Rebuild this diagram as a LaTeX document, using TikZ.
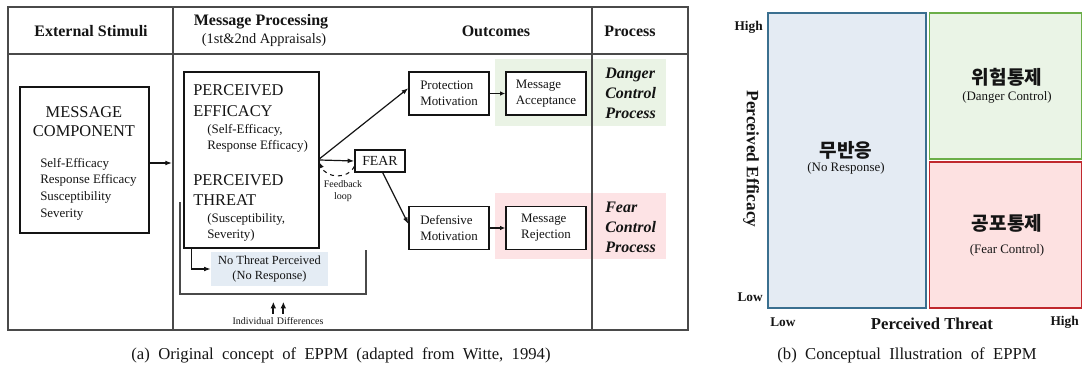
\documentclass[tikz,border=0pt]{standalone}
\usepackage{fontspec}
\setmainfont{Liberation Serif}
\newfontfamily\krfont{Noto Sans CJK KR}
\usepackage{tikz}
\usetikzlibrary{arrows.meta,positioning,calc}
\definecolor{ink}{HTML}{141414}
\definecolor{framegray}{HTML}{4A4A4A}
\definecolor{accbg}{HTML}{EAF3E5}
\definecolor{rejbg}{HTML}{FDE3E5}
\definecolor{nobg}{HTML}{E4ECF4}
\definecolor{quadblue}{HTML}{E4EBF3}
\definecolor{quadblueline}{HTML}{3A6F8F}
\definecolor{quadgreen}{HTML}{EAF4E6}
\definecolor{quadgreenline}{HTML}{6BAE48}
\definecolor{quadred}{HTML}{FDE1E1}
\definecolor{quadredline}{HTML}{C0282D}
\newcommand{\fsz}[1]{\fontsize{#1}{1.25\dimexpr#1pt\relax}\selectfont}
\tikzset{
  >=Latex,
  every node/.style={text=ink,inner sep=0pt},
  frame/.style={draw=framegray,line width=1pt},
  colhead/.style={font=\fsz{12}\bfseries},
  box/.style={draw=ink,line width=1pt,fill=white},
  smallbox/.style={box,align=left,font=\fsz{9.7},minimum width=60pt,minimum height=32.25pt,inner xsep=5pt},
  band/.style={inner sep=0pt},
  proc/.style={font=\fsz{12}\bfseries\itshape,align=left},
  arr/.style={-{Latex[length=5pt,width=3.6pt]},line width=0.9pt,draw=ink},
  tinyarr/.style={-{Latex[length=4pt,width=3.4pt]},line width=1pt,draw=ink},
  uparr/.style={-{Latex[length=5pt,width=4.4pt]},line width=1.3pt,draw=ink},
  tiny/.style={font=\fsz{7.5},align=center},
  quad/.style={line width=1.2pt,inner sep=0pt},
  quadkr/.style={font=\krfont\bfseries\fsz{14.3}},
  quaden/.style={font=\fsz{9.7}},
  axis/.style={font=\fsz{10}\bfseries},
  caption/.style={font=\fsz{12.5}}
}
\begin{document}
\begin{tikzpicture}[x=0.75pt,y=-0.75pt]
  \useasboundingbox (0,0) rectangle (1083,374);

  % (a) table frame
  \draw[frame] (8,7) rectangle (688,330);
  \draw[frame] (8,54) -- (688,54);
  \draw[frame] (173,7) -- (173,330);
  \draw[draw=framegray,line width=1.6pt] (8,330) -- (688,330);

  \node[colhead] (hstim) at (91,31) {External Stimuli};
  \node[colhead] (hproc) at (261,22) {Message Processing};
  \node[font=\fsz{10.8}] (happr) at (264,40) {(1st\&2nd Appraisals)};
  \node[colhead] (hout) at (496,31) {Outcomes};
  \node[colhead] (hprc) at (630,31) {Process};

  % shaded bands behind the outcome boxes
  \node[band,fill=accbg,minimum width=128.25pt,minimum height=50.25pt] (accband) at (580.5,92.5) {};
  \node[band,fill=rejbg,minimum width=128.25pt,minimum height=49.5pt] (rejband) at (580.5,226) {};
  \node[band,fill=nobg,minimum width=87.75pt,minimum height=25.5pt] (nothreat) at (269.5,269)
    {\parbox{85pt}{\centering\fsz{9.3}No Threat Perceived\\(No Response)}};
  \draw[frame] (592,7) -- (592,330);

  % message component
  \node[box,minimum width=96.75pt,minimum height=109.5pt] (msg) at (84.5,160) {};
  \node[font=\fsz{12.3}] (msgt1) at (84,112) {MESSAGE};
  \node[font=\fsz{12.3}] (msgt2) at (84,131) {COMPONENT};
  \node[font=\fsz{9.7},align=left,anchor=west] (msgl) at (40,189)
    {Self-Efficacy\\[0.4pt]Response Efficacy\\[0.4pt]Susceptibility\\[0.4pt]Severity};

  % perceived efficacy / threat
  \node[box,minimum width=101.25pt,minimum height=132pt] (eff) at (251.5,160) {};
  \node[font=\fsz{12.3},align=left,anchor=west] (efft) at (193,100.5) {PERCEIVED\\EFFICACY};
  \node[font=\fsz{9.7},align=left,anchor=west] (effs) at (207,138.5) {(Self-Efficacy,\\Response Efficacy)};
  \node[font=\fsz{12.3},align=left,anchor=west] (thrt) at (193,190) {PERCEIVED\\THREAT};
  \node[font=\fsz{9.7},align=left,anchor=west] (thrs) at (207,227.5) {(Susceptibility,\\Severity)};

  % fear and outcomes
  \node[box,font=\fsz{10.4},minimum width=37.5pt,minimum height=16.5pt] (fear) at (380,161) {FEAR};
  \node[smallbox] (pm) at (449,93.5) {Protection\\Motivation};
  \node[smallbox] (ma) at (546,93.5) {Message\\Acceptance};
  \node[smallbox] (dm) at (449,228) {Defensive\\Motivation};
  \node[smallbox] (mr) at (546,228) {Message\\Rejection};

  \node[proc,anchor=west] (dcp) at (605,93) {Danger\\Control\\Process};
  \node[proc,anchor=west] (fcp) at (605,227) {Fear\\Control\\Process};

  \node[tiny] (fbl) at (343,191) {Feedback\\loop};
  \node[tiny] (indiv) at (278,321) {Individual\,\,Differences};

  % connectors
  \coordinate (colin) at (172,163);
  \draw[arr] (msg.east |- colin) -- (colin);
  \draw[arr] (eff.east) -- (fear.west);
  \draw[arr] ([yshift=1pt]eff.east) -- ([yshift=4pt]pm.west);
  \draw[arr] ([xshift=2pt]fear.south) -- ([yshift=3pt]dm.west);
  \draw[tinyarr,dashed,line width=0.8pt] ([yshift=-4pt]fear.west) .. controls (348,180) and (326,178) .. ([yshift=-2pt]eff.east);
  \draw[tinyarr] (pm) -- (ma);
  \draw[tinyarr] (dm) -- (mr);
  \draw[arr] ([xshift=6pt]eff.south west) |- (nothreat.west);
  \draw[frame,line width=1.2pt] (180,202) -- (180,294) -- (366,294) -- (366,250);
  \draw[uparr] ([xshift=-3.5pt,yshift=2.5pt]indiv.north) -- ++(0,-12);
  \draw[uparr] ([xshift=4pt,yshift=2.5pt]indiv.north) -- ++(0,-12);

  % (b) quadrant chart
  \node[quad,draw=quadblueline,fill=quadblue,minimum width=118.5pt,minimum height=221.25pt] (noresp) at (847,160.5) {};
  \node[quad,draw=quadgreenline,fill=quadgreen,minimum width=114pt,minimum height=109.5pt] (dangerq) at (1005.5,86) {};
  \node[quad,draw=quadredline,fill=quadred,minimum width=114pt,minimum height=109.5pt] (fearq) at (1005.5,235) {};

  \node[quadkr] (nrkr) at (846,150) {무반응};
  \node[quaden] (nren) at (846,168) {(No Response)};
  \node[quadkr] (dgkr) at (1007,77) {위험통제};
  \node[quaden] (dgen) at (1007,97) {(Danger Control)};
  \node[quadkr] (fckr) at (1007,223) {공포통제};
  \node[quaden] (fcen) at (1007,250) {(Fear Control)};

  \node[axis,anchor=east] (yhigh) at (763,27) {High};
  \node[axis,anchor=east] (ylow) at (763,297) {Low};
  \node[font=\fsz{13}\bfseries,rotate=-90] (ylab) at (751,159) {Perceived Efficacy};
  \node[axis,anchor=west] (xlow) at (770,322) {Low};
  \node[font=\fsz{12.5}\bfseries] (xlab) at (932,324) {Perceived Threat};
  \node[axis,anchor=east] (xhigh) at (1079,322) {High};

  % captions
  \node[caption] (capa) at (341,355) {(a)\ \ Original\ \ concept\ \ of\ \ EPPM\ \ (adapted\ \ from\ \ Witte,\ \ 1994)};
  \node[caption] (capb) at (907,355) {(b)\ \ Conceptual\ \ Illustration\ \ of\ \ EPPM};
\end{tikzpicture}
\end{document}
